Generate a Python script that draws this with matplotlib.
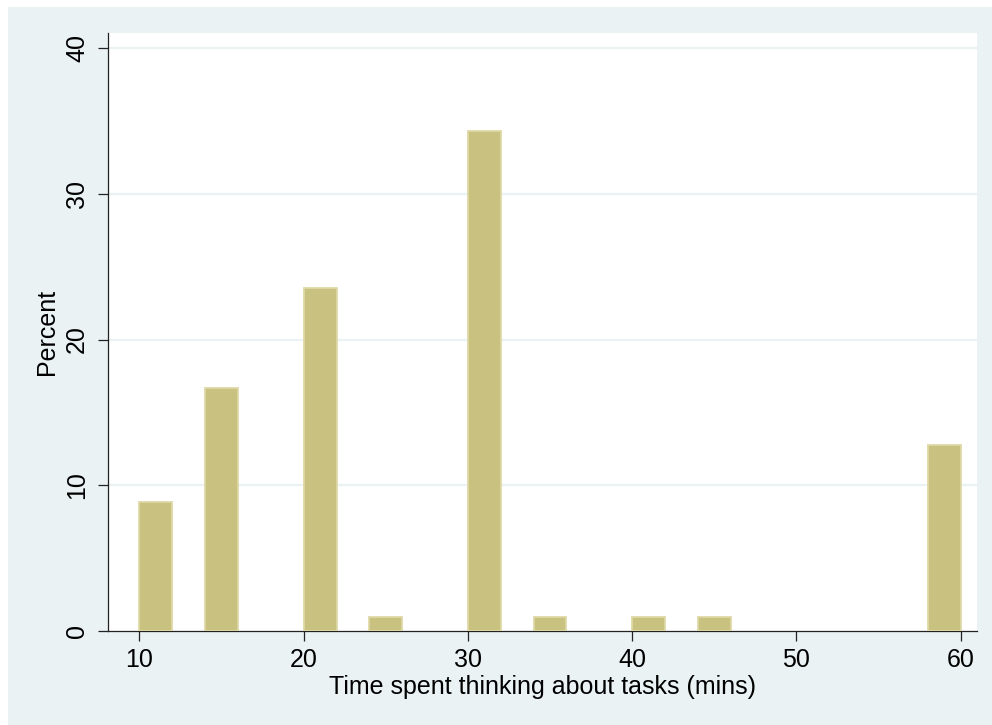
import matplotlib.pyplot as plt
import matplotlib.patches as patches

# histogram of minutes, bins of width 2 starting at 10
bin_left = [10, 14, 20, 24, 30, 34, 40, 44, 58]
percent = [8.82, 16.67, 23.53, 0.98, 34.31, 0.98, 0.98, 0.98, 12.75]
bin_width = 2

x_ticks = [10, 20, 30, 40, 50, 60]
y_ticks = [0, 10, 20, 30, 40]

BG = '#EAF2F3'
BAR = '#C9C17F'
BAR_EDGE = '#DED8A6'
AXIS = '#222222'

plt.rcParams['font.family'] = ['Liberation Sans', 'DejaVu Sans']

fig = plt.figure(figsize=(9.92, 7.25), dpi=100)
fig.patch.set_facecolor('white')
# light graph region, with a thin white strip along the top and left
fig.patches.append(patches.Rectangle((8 / 992, 0), 1, 1 - 7 / 725,
                                     transform=fig.transFigure,
                                     facecolor=BG, edgecolor='none', zorder=-10))

ax = fig.add_axes([0.1086, 0.1297, 0.876, 0.8248])
ax.set_facecolor('white')

ax.bar(bin_left, percent, width=bin_width, align='edge',
       color=BAR, edgecolor=BAR_EDGE, linewidth=1.3, zorder=3)

ax.set_xlim(8.07, 60.98)
ax.set_ylim(0, 41.04)
ax.set_xticks(x_ticks)
ax.set_yticks(y_ticks)
ax.set_yticklabels([str(t) for t in y_ticks], rotation=90, va='center')

for t in y_ticks[1:]:
    ax.axhline(t, color=BG, linewidth=1.6, zorder=1)

for side in ['top', 'right']:
    ax.spines[side].set_visible(False)
for side in ['left', 'bottom']:
    ax.spines[side].set_color(AXIS)
    ax.spines[side].set_linewidth(0.9)

ax.tick_params(axis='both', length=7.5, width=0.9, color=AXIS,
               labelsize=18, pad=5)
ax.tick_params(axis='y', pad=6)

ax.set_xlabel('Time spent thinking about tasks (mins)', fontsize=18, labelpad=2)
ax.set_ylabel('Percent', fontsize=18, labelpad=4)

fig.savefig('out.png', dpi=100, facecolor=fig.get_facecolor())
